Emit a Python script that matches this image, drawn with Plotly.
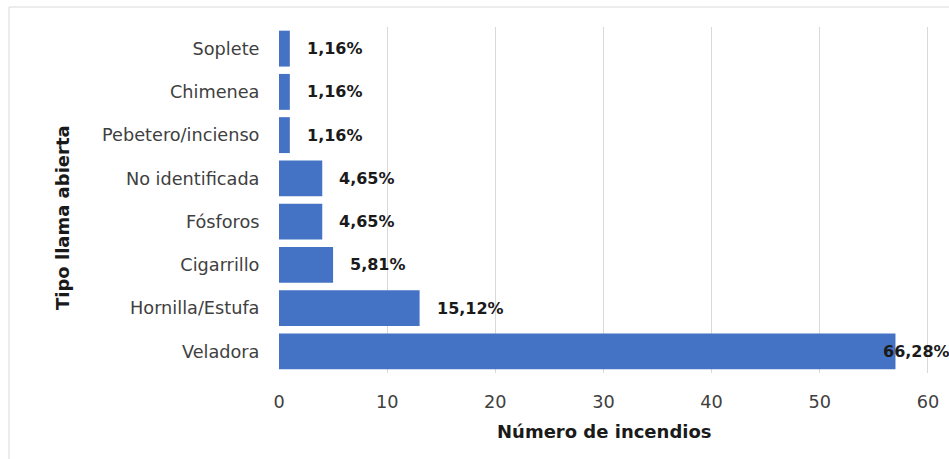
import plotly.graph_objects as go

categories = ["Veladora", "Hornilla/Estufa", "Cigarrillo", "Fósforos",
              "No identificada", "Pebetero/incienso", "Chimenea", "Soplete"]
counts = [57, 13, 5, 4, 4, 1, 1, 1]
pct_labels = ["66,28%", "15,12%", "5,81%", "4,65%", "4,65%", "1,16%", "1,16%", "1,16%"]
x_ticks = [0, 10, 20, 30, 40, 50, 60]

W, H = 949, 459
L, R, T, B = 279, 20, 27, 86
pw, ph = W - L - R, H - T - B

fig = go.Figure(go.Bar(
    x=counts, y=categories, orientation="h",
    marker=dict(color="#4472C4", line=dict(width=0)),
    hoverinfo="x+y",
))

annotations = []
for i, (c, cat, lab) in enumerate(zip(counts, categories, pct_labels)):
    shift = 15 if c < 55 else -14
    annotations.append(dict(
        x=c, y=cat, xref="x", yref="y", text=lab, showarrow=False,
        xanchor="left", xshift=shift,
        font=dict(family="DejaVu Sans", size=16, color="#1a1a1a", weight="bold"),
    ))

# axis titles
annotations.append(dict(
    x=(604 - L) / pw, y=(H - B - 432) / ph, xref="paper", yref="paper",
    text="<b>Número de incendios</b>", showarrow=False,
    xanchor="center", yanchor="middle",
    font=dict(family="DejaVu Sans", size=18, color="#1a1a1a"),
))
annotations.append(dict(
    x=(62 - L) / pw, y=(H - B - 218) / ph, xref="paper", yref="paper",
    text="<b>Tipo llama abierta</b>", showarrow=False, textangle=-90,
    xanchor="center", yanchor="middle",
    font=dict(family="DejaVu Sans", size=18, color="#1a1a1a"),
))

fig.update_layout(
    width=W, height=H,
    margin=dict(l=L, r=R, t=T, b=B, autoexpand=False),
    paper_bgcolor="white", plot_bgcolor="white",
    bargap=0.17,
    showlegend=False,
    font=dict(family="DejaVu Sans", size=17.7, color="#404040"),
    annotations=annotations,
    shapes=[
        dict(type="line", xref="paper", yref="paper",
             x0=(9 - L) / pw, x1=(960 - L) / pw,
             y0=(H - B - 7) / ph, y1=(H - B - 7) / ph,
             line=dict(color="#d9d9d9", width=1)),
        dict(type="line", xref="paper", yref="paper",
             x0=(9 - L) / pw, x1=(9 - L) / pw,
             y0=(H - B - 7) / ph, y1=(H - B - 470) / ph,
             line=dict(color="#d9d9d9", width=1)),
    ],
)

fig.update_xaxes(
    range=[0, 60.1], tickvals=x_ticks, ticktext=[str(v) for v in x_ticks],
    showgrid=True, gridcolor="#d9d9d9", gridwidth=1,
    zeroline=False, showline=False,
    ticks="outside", ticklen=13, tickcolor="rgba(0,0,0,0)",
    tickfont=dict(family="DejaVu Sans", size=17.7, color="#404040"),
)
fig.update_yaxes(
    categoryorder="array", categoryarray=categories,
    showgrid=False, zeroline=False, showline=False,
    ticks="outside", ticklen=15, tickcolor="rgba(0,0,0,0)",
    tickfont=dict(family="DejaVu Sans", size=17.7, color="#404040"),
)

fig.write_html(
    "out.html",
    config={"displayModeBar": False},
    post_script="document.body.style.margin='0';document.body.style.overflow='hidden';",
)
